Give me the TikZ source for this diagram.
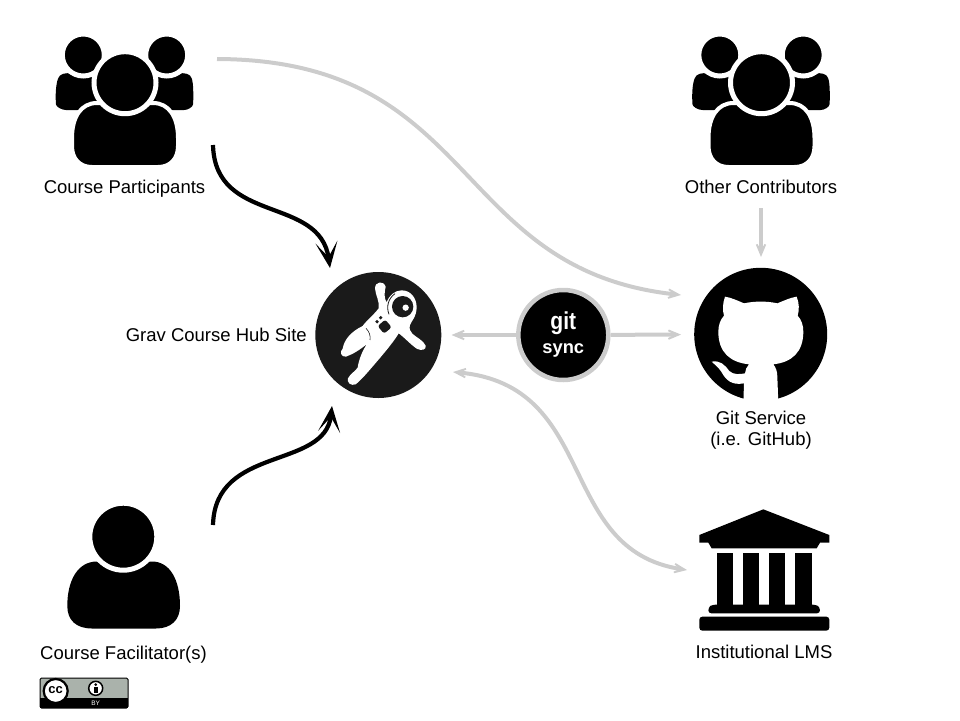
\documentclass[tikz,border=0pt]{standalone}
\usepackage{fontspec}
\setmainfont{Liberation Sans}
\newfontfamily\gitfont[FakeStretch=0.86]{Liberation Sans}
\usetikzlibrary{arrows.meta}
\definecolor{linkgray}{HTML}{CCCCCC}
\definecolor{hubdark}{HTML}{1A1A1A}
\definecolor{ccgray}{HTML}{AAB2AB}
\tikzset{
  lbl/.style={font=\fontsize{18.5}{21}\selectfont,text=black,inner sep=0pt,align=center},
  graylink/.style={draw=linkgray,line width=4pt,-{Stealth[length=24pt,width=20pt,inset=17pt]}},
  graytwo/.style={draw=linkgray,line width=4pt,{Stealth[length=24pt,width=20pt,inset=17pt]}-{Stealth[length=24pt,width=20pt,inset=17pt]}},
  blacklink/.style={draw=black,line width=4.2pt,-{Stealth[length=26pt,width=22pt,inset=15pt]}},
  halo/.style={draw=white,line width=5pt,fill=black},
  pics/crowd/.style={code={
    % side bodies
    \fill[black,rounded corners=4pt] (63,73) .. controls (57,78) and (55.7,88) .. (55.7,100)
        .. controls (56,107) and (62,110) .. (70,110) -- (100,110) -- (100,75) -- cycle;
    \fill[black,rounded corners=4pt] (187,73) .. controls (193,78) and (193.3,88) .. (193.3,100)
        .. controls (193,107) and (188,110) .. (180,110) -- (150,110) -- (150,75) -- cycle;
    % side heads
    \filldraw[halo] (83.3,55) circle (21);
    \filldraw[halo] (166.7,55) circle (21);
    % centre body
    \filldraw[halo,line width=4pt] (92,167) .. controls (80,167) and (72,159) .. (72,146)
        -- (72,138) .. controls (72,117) and (81,103) .. (97,103) -- (153,103)
        .. controls (169,103) and (178,117) .. (178,138) -- (178,146)
        .. controls (178,159) and (170,167) .. (158,167) -- cycle;
    % centre head
    \filldraw[halo] (125,82.7) circle (31);
  }},
}
\begin{document}
\begin{tikzpicture}[x=1pt,y=-1pt]
\useasboundingbox (0,0) rectangle (960,720);

% crowds
\pic at (0,0) {crowd};
\pic at (636.5,0) {crowd};

% single person
\fill[black] (92,628.5) .. controls (76,628.5) and (67.3,620) .. (67.3,606)
    .. controls (67.3,580) and (78,561.5) .. (97,561.5) -- (152,561.5)
    .. controls (170,561.5) and (180,580) .. (180,606)
    .. controls (180,620) and (171,628.5) .. (156,628.5) -- cycle;
\filldraw[halo] (123.3,536.7) circle (33.5);

% hub
\node[circle,fill=hubdark,minimum size=126pt,inner sep=0pt] (hub) at (378.3,335) {};
\begin{scope}[shift={(330,275)},x=0.3333pt,y=-0.3333pt]
  \fill[white] (135,40) .. controls (135,20) and (160,15) .. (167,35)
      .. controls (162,55) and (163,72) .. (170,82)
      .. controls (178,60) and (195,46) .. (215,46)
      .. controls (243,46) and (260,70) .. (260,97)
      .. controls (260,125) and (242,142) .. (240,150)
      .. controls (237,160) and (240,170) .. (247,176)
      .. controls (260,188) and (280,196) .. (287,212)
      .. controls (290,224) and (275,228) .. (262,222)
      .. controls (245,212) and (222,186) .. (206,175)
      .. controls (197,192) and (168,228) .. (137,264)
      .. controls (117,287) and (97,312) .. (77,328)
      .. controls (62,334) and (50,322) .. (54,310)
      .. controls (60,298) and (76,288) .. (83,278)
      .. controls (86,255) and (98,225) .. (111,207)
      .. controls (90,224) and (70,237) .. (48,245)
      .. controls (33,247) and (28,230) .. (38,221)
      .. controls (43,193) and (63,170) .. (98,153)
      .. controls (108,138) and (133,118) .. (146,100)
      .. controls (150,80) and (136,60) .. (135,40) -- cycle;
  \fill[hubdark] (218,95) circle (32);
  \draw[hubdark,line width=0.8pt] (177,118) .. controls (168,95) and (175,70) .. (195,56);
  \draw[hubdark,line width=0.6pt] (108,160) .. controls (118,170) and (122,182) .. (120,195);
  \fill[white] (227,98) circle (9.5);
  \fill[hubdark,rounded corners=2.5pt,rotate around={40:(164,155)}] (149,140) rectangle (179,170);
  \fill[hubdark] (152,128) circle (5.5);
  \fill[hubdark] (141,140) circle (5.5);
\end{scope}
\node[lbl,anchor=base east] (hublabel) at (307,341) {Grav Course Hub Site};

% git sync
\node[circle,fill=black,draw=linkgray,line width=4.5pt,minimum size=90pt,inner sep=0pt,
      text=white,align=center,font=\bfseries\fontsize{18.3}{24}\selectfont] (sync) at (563.3,335)
  {{\gitfont\bfseries\fontsize{24.5}{24}\selectfont git}\\sync};

% github
\node[circle,fill=black,minimum size=133pt,inner sep=0pt] (github) at (760.7,334.3) {};
\begin{scope}[shift={(690,265)},x=0.3333pt,y=-0.3333pt]
  \fill[white] (105,95) .. controls (125,98) and (145,108) .. (162,115)
      .. controls (195,108) and (230,108) .. (262,115)
      .. controls (280,108) and (300,98) .. (320,95)
      .. controls (328,115) and (328,135) .. (323,152)
      .. controls (335,165) and (340,182) .. (340,200)
      .. controls (340,262) and (305,292) .. (250,298)
      .. controls (258,308) and (262,320) .. (262,335)
      -- (265,415) -- (160,415) -- (162,355)
      .. controls (125,362) and (108,345) .. (95,322)
      .. controls (88,310) and (78,302) .. (65,290)
      .. controls (90,285) and (105,300) .. (118,318)
      .. controls (130,330) and (150,328) .. (165,325)
      .. controls (166,315) and (170,305) .. (177,298)
      .. controls (120,292) and (85,262) .. (85,200)
      .. controls (85,182) and (90,165) .. (102,152)
      .. controls (97,135) and (98,115) .. (105,95) -- cycle;
\end{scope}

% institution
\begin{scope}[shift={(680,500)},x=0.3333pt,y=-0.3333pt]
  \fill[black] (250,28) -- (448,105) -- (448,128) -- (420,128) -- (410,145) -- (95,145) -- (85,128) -- (58,128) -- (58,105) -- cycle;
  \foreach \xa/\xb in {110/160,188/238,266/316,345/395}
    \fill[black] (\xa,158) rectangle (\xb,320);
  \fill[black,rounded corners=3pt] (85,340) -- (85,322) -- (97,314) -- (408,314) -- (420,322) -- (420,340) -- cycle;
  \fill[black,rounded corners=3pt] (58,350) rectangle (448,392);
\end{scope}

% labels
\node[lbl,anchor=base] (participants) at (124.5,193.5) {Course Participants};
\node[lbl,anchor=base] (contributors) at (761,193.5) {Other Contributors};
\node[lbl] (gitservice) at (761,430) {Git Service\\(i.e. GitHub)};
\node[lbl,anchor=base] (lms) at (764,658) {Institutional LMS};
\node[lbl,anchor=base] (facilitator) at (123.5,659) {Course Facilitator(s)};

% connector ends
\coordinate (partgray) at (217,59);
\coordinate (gitin) at (681,295);
\coordinate (partblack) at (213,145);
\coordinate (hubtop) at (330,268);
\coordinate (facblack) at (213,525);
\coordinate (hubbottom) at (332,406);
\coordinate (contribout) at (761,208);
\coordinate (gitcontrib) at (761,257);
\coordinate (hublms) at (453,372);
\coordinate (lmsin) at (687,570);

% connectors
\draw[graylink] (partgray) .. controls (480,60) and (450,270) .. (gitin);
\draw[blacklink] (partblack) .. controls (215,225) and (320,195) .. (hubtop);
\draw[blacklink] (facblack) .. controls (215,445) and (325,470) .. (hubbottom);
\draw[graylink] (contribout) -- (gitcontrib);
\draw[graylink,shorten >=10pt] (sync) -- (hub);
\draw[graylink,shorten >=13pt] (sync) -- (github);
\draw[graytwo] (hublms) .. controls (600,385) and (555,550) .. (lmsin);

% licence badge
\fill[ccgray] (40,678) rectangle (128,698);
\fill[black] (40,698) rectangle (128,708);
\draw[black,line width=1pt,rounded corners=1.5pt] (40,678) rectangle (128,708);
\filldraw[fill=white,draw=black,line width=2.2pt] (55.7,691) circle (12);
\node[font=\bfseries\fontsize{13}{13}\selectfont,inner sep=0pt,text=black] (cc) at (55.7,690) {cc};
\filldraw[fill=white,draw=black,line width=1.5pt] (95.7,688.3) circle (7);
\fill[black] (95.7,684.6) circle (1.5);
\fill[black] (93.8,686.6) rectangle (97.6,692.8);
\node[font=\fontsize{6.5}{7}\selectfont,inner sep=0pt,text=white] (by) at (95.7,703) {BY};
\end{tikzpicture}
\end{document}
